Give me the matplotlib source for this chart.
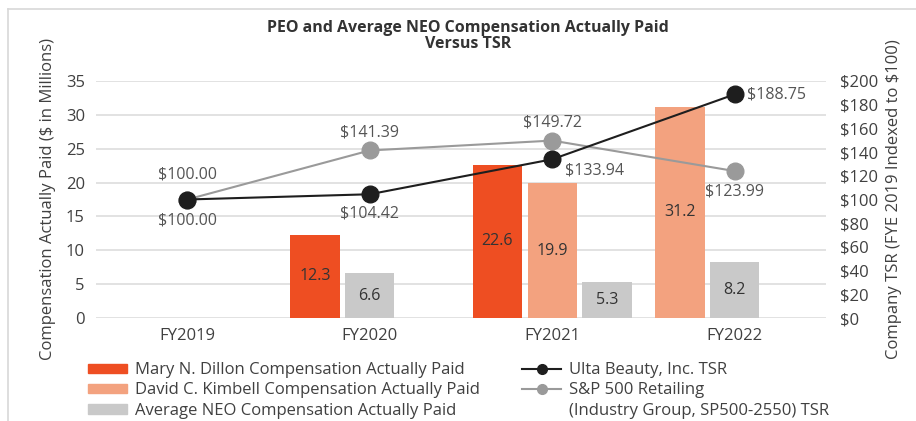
import numpy as np
import matplotlib.pyplot as plt
from matplotlib.lines import Line2D
from matplotlib.patches import Patch

plt.rcParams['font.family'] = ['Open Sans', 'DejaVu Sans']

years = ['FY2019', 'FY2020', 'FY2021', 'FY2022']
dillon = [None, 12.3, 22.6, None]
kimbell = [None, None, 19.9, 31.2]
neo = [None, 6.6, 5.3, 8.2]
ulta_tsr = [100.00, 104.42, 133.94, 188.75]
sp_tsr = [100.00, 141.39, 149.72, 123.99]

c_dillon = '#EE4E22'
c_kimbell = '#F3A27F'
c_neo = '#C9C9C9'
c_ulta = '#1E1E1E'
c_sp = '#9A9A9A'
txt = '#404040'

fig = plt.figure(figsize=(9.16, 4.21), dpi=100)
ax = fig.add_axes([96 / 916, 1 - 318 / 421, 730 / 916, 237 / 421])

# bars: present series are laid out from the left slot in each year
width = 0.27
step = 0.30
for i in range(len(years)):
    slot = -1
    for vals, col in [(dillon, c_dillon), (kimbell, c_kimbell), (neo, c_neo)]:
        v = vals[i]
        if v is None:
            continue
        x = i + slot * step
        ax.bar(x, v, width=width, color=col, zorder=2)
        ax.text(x, v / 2, f'{v:.1f}', ha='center', va='center', fontsize=11.5, color='#333333', zorder=3)
        slot += 1

ax.set_xlim(-0.5, 3.5)
ax.set_ylim(0, 35)
ax.set_yticks(range(0, 36, 5))
ax.set_xticks(range(len(years)))
ax.set_xticklabels(years)
ax.grid(axis='y', color='#DDDDDD', linewidth=1.2, zorder=0)
ax.set_axisbelow(True)
for s in ax.spines.values():
    s.set_visible(False)
ax.tick_params(length=0, labelsize=12, colors=txt, pad=8)
ax.tick_params(axis='x', pad=7)
ax.set_ylabel('Compensation Actually Paid ($ in Millions)', fontsize=12, color=txt, labelpad=7)

ax2 = ax.twinx()
ax2.set_ylim(0, 200)
ax2.set_yticks(range(0, 201, 20))
ax2.set_yticklabels([f'${t}' for t in range(0, 201, 20)])
for s in ax2.spines.values():
    s.set_visible(False)
ax2.tick_params(length=0, labelsize=12, colors=txt, pad=10)
ax2.set_ylabel('Company TSR (FYE 2019 Indexed to $100)', fontsize=12, color=txt, labelpad=6)

xs = np.arange(len(years))
ax2.plot(xs, sp_tsr, color=c_sp, lw=1.5, marker='o', ms=12, zorder=4)
ax2.plot(xs, ulta_tsr, color=c_ulta, lw=1.5, marker='o', ms=12, zorder=5)

lab = dict(fontsize=11.5, color='#555555')
# S&P labels
ax2.annotate(f'${sp_tsr[0]:.2f}', (0, sp_tsr[0]), xytext=(0, 18), textcoords='offset points', ha='center', va='center', **lab)
ax2.annotate(f'${sp_tsr[1]:.2f}', (1, sp_tsr[1]), xytext=(0, 13), textcoords='offset points', ha='center', va='center', **lab)
ax2.annotate(f'${sp_tsr[2]:.2f}', (2, sp_tsr[2]), xytext=(0, 13), textcoords='offset points', ha='center', va='center', **lab)
ax2.annotate(f'${sp_tsr[3]:.2f}', (3, sp_tsr[3]), xytext=(0, -15), textcoords='offset points', ha='center', va='center', **lab)
# Ulta labels
ax2.annotate(f'${ulta_tsr[0]:.2f}', (0, ulta_tsr[0]), xytext=(0, -15), textcoords='offset points', ha='center', va='center', **lab)
ax2.annotate(f'${ulta_tsr[1]:.2f}', (1, ulta_tsr[1]), xytext=(0, -14), textcoords='offset points', ha='center', va='center', **lab)
ax2.annotate(f'${ulta_tsr[2]:.2f}', (2, ulta_tsr[2]), xytext=(9, -8), textcoords='offset points', ha='left', va='center', **lab)
ax2.annotate(f'${ulta_tsr[3]:.2f}', (3, ulta_tsr[3]), xytext=(9, 0), textcoords='offset points', ha='left', va='center', **lab)

fig.text(468 / 916, 1 - 36 / 421, 'PEO and Average NEO Compensation Actually Paid\nVersus TSR',
         ha='center', va='center', fontsize=11.5, fontweight='bold', color='#333333', linespacing=1.05)

# legends
leg_kw = dict(loc='upper left', frameon=False, fontsize=12, labelcolor=txt, handlelength=2.3,
              labelspacing=0.25, handletextpad=0.5, borderpad=0)
h1 = [Patch(color=c_dillon), Patch(color=c_kimbell), Patch(color=c_neo)]
l1 = ['Mary N. Dillon Compensation Actually Paid', 'David C. Kimbell Compensation Actually Paid',
      'Average NEO Compensation Actually Paid']
fig.legend(h1, l1, bbox_to_anchor=(80 / 916, 1 - 354 / 421), handleheight=0.5, **leg_kw)
h2 = [Line2D([], [], color=c_ulta, marker='o', ms=7, lw=1.5),
      Line2D([], [], color=c_sp, marker='o', ms=7, lw=1.5),
      Line2D([], [], color='none')]
l2 = ['Ulta Beauty, Inc. TSR', 'S&P 500 Retailing', '(Industry Group, SP500-2550) TSR']
fig.legend(h2, l2, bbox_to_anchor=(514 / 916, 1 - 354 / 421), **leg_kw)

# outer frame lines
fig.add_artist(Line2D([8 / 916, 1], [1 - 9 / 421, 1 - 9 / 421], color='#D8D8D8', lw=1.2, transform=fig.transFigure))
fig.add_artist(Line2D([8 / 916, 8 / 916], [0, 1 - 9 / 421], color='#D8D8D8', lw=1.2, transform=fig.transFigure))

fig.savefig('out.png', dpi=100)
